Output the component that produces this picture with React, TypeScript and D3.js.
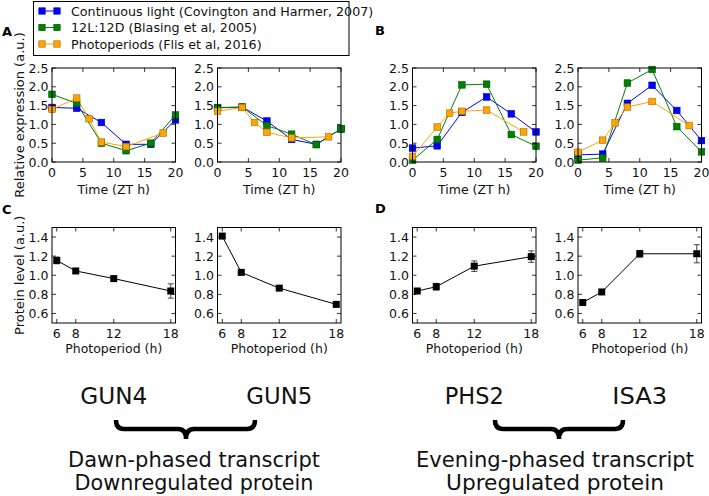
import React from 'react';
import * as d3 from 'd3';

// ---- Data ----
const genes = ['GUN4', 'GUN5', 'PHS2', 'ISA3'];
const seriesNames = [
  'Continuous light (Covington and Harmer, 2007)',
  '12L:12D (Blasing et al, 2005)',
  'Photoperiods (Flis et al, 2016)',
];
const seriesColors = ['#0000ff', '#008000', '#ffa500'];

const timesContinuous = [0, 4, 8, 12, 16, 20];
const times12L12D = [0, 4, 8, 12, 16, 20];
const timesPhotoperiod = [0, 4, 6, 8, 12, 18];

const gun4Continuous = [1.45, 1.43, 1.05, 0.47, 0.47, 1.12];
const gun4Blasing = [1.80, 1.56, 0.50, 0.30, 0.50, 1.25];
const gun4Flis = [1.40, 1.70, 1.15, 0.53, 0.41, 0.77];

const gun5Continuous = [1.44, 1.46, 1.09, 0.60, 0.47, 0.88];
const gun5Blasing = [1.45, 1.46, 0.97, 0.74, 0.46, 0.88];
const gun5Flis = [1.35, 1.45, 1.05, 0.79, 0.64, 0.67];

const phs2Continuous = [0.37, 0.43, 1.32, 1.73, 1.28, 0.80];
const phs2Blasing = [0.05, 0.60, 2.05, 2.07, 0.73, 0.42];
const phs2Flis = [0.15, 0.93, 1.30, 1.35, 1.38, 0.80];

const isa3Continuous = [0.19, 0.21, 1.56, 2.04, 1.37, 0.57];
const isa3Blasing = [0.05, 0.11, 2.10, 2.46, 0.94, 0.27];
const isa3Flis = [0.26, 0.58, 1.04, 1.46, 1.61, 0.97];

const photoperiods = [6, 8, 12, 18];
const gun4Protein = [1.155, 1.045, 0.965, 0.835];
const gun4ProteinErr = [0.035, 0.015, 0.02, 0.075];
const gun5Protein = [1.41, 1.03, 0.865, 0.695];
const gun5ProteinErr = [0.015, 0.015, 0.025, 0.02];
const phs2Protein = [0.835, 0.88, 1.095, 1.195];
const phs2ProteinErr = [0.02, 0.035, 0.055, 0.06];
const isa3Protein = [0.715, 0.825, 1.225, 1.225];
const isa3ProteinErr = [0.025, 0.01, 0.035, 0.095];

const timeTicks = [0, 5, 10, 15, 20];
const exprTicks = [0, 0.5, 1.0, 1.5, 2.0, 2.5];
const photoTicks = [6, 8, 12, 18];
const proteinTicks = [0.6, 0.8, 1.0, 1.2, 1.4];

const panelLetters = ['A', 'B', 'C', 'D'];
const groupTitles = [
  ['Dawn-phased transcript', 'Downregulated protein'],
  ['Evening-phased transcript', 'Upregulated protein'],
];

// ---- Tables built from the arrays ----
const seriesTimes = [timesContinuous, times12L12D, timesPhotoperiod];
const expression = [
  [gun4Continuous, gun4Blasing, gun4Flis],
  [gun5Continuous, gun5Blasing, gun5Flis],
  [phs2Continuous, phs2Blasing, phs2Flis],
  [isa3Continuous, isa3Blasing, isa3Flis],
];
const protein = [
  [gun4Protein, gun4ProteinErr],
  [gun5Protein, gun5ProteinErr],
  [phs2Protein, phs2ProteinErr],
  [isa3Protein, isa3ProteinErr],
];

// ---- Layout ----
const W = 709;
const H = 496;
const FONT = 'DejaVu Sans, Verdana, sans-serif';
const FS = 12.5;
const panelLefts = [52, 217.5, 412.5, 578];
const panelW = 123.5;
const topY0 = 68;
const topY1 = 162;
const botY0 = 227.5;
const botY1 = 323;
const TICK = 4;
const geneWidths = [67, 66, 59, 55];
const titleCenters = [194, 555];
const titleWidths = [[252, 239], [278, 218]];

function Frame({ sx, sy, xTicks, yTicks, yFmt }: any) {
  const [x0, x1] = sx.range();
  const [y1, y0] = sy.range();
  return (
    <g>
      {xTicks.map((t: number) => (
        <g key={'x' + t}>
          <line x1={sx(t)} x2={sx(t)} y1={y1} y2={y1 - TICK} stroke="#000" strokeWidth={0.8} />
          <line x1={sx(t)} x2={sx(t)} y1={y0} y2={y0 + TICK} stroke="#000" strokeWidth={0.8} />
          <text x={sx(t)} y={y1 + 15} fontSize={FS} textAnchor="middle" fontFamily={FONT} fill="#111">{t}</text>
        </g>
      ))}
      {yTicks.map((t: number) => (
        <g key={'y' + t}>
          <line x1={x0} x2={x0 + TICK} y1={sy(t)} y2={sy(t)} stroke="#000" strokeWidth={0.8} />
          <line x1={x1} x2={x1 - TICK} y1={sy(t)} y2={sy(t)} stroke="#000" strokeWidth={0.8} />
          <text x={x0 - 3.5} y={sy(t)} dy="0.36em" fontSize={FS} textAnchor="end" fontFamily={FONT} fill="#111">{yFmt(t)}</text>
        </g>
      ))}
      <rect x={x0} y={y0} width={x1 - x0} height={y1 - y0} fill="none" stroke="#000" strokeWidth={1} />
    </g>
  );
}

function Brace({ x0, x1, xm, y0 }: { x0: number; x1: number; xm: number; y0: number }) {
  const yb = y0 + 9;
  const yt = y0 + 19;
  const r = 8;
  const d =
    `M${x0},${y0} Q${x0},${yb} ${x0 + r},${yb} L${xm - r},${yb} Q${xm},${yb} ${xm},${yt}` +
    ` M${x1},${y0} Q${x1},${yb} ${x1 - r},${yb} L${xm + r},${yb} Q${xm},${yb} ${xm},${yt}`;
  return <path d={d} fill="none" stroke="#000" strokeWidth={4.5} strokeLinecap="butt" />;
}

export default function App() {
  const fmt1 = d3.format('.1f');
  const line = d3.line<[number, number]>();

  return (
    <svg width={W} height={H} style={{ position: 'absolute', left: 0, top: 0, background: '#fff' }}>
      <rect width={W} height={H} fill="#fff" />

      {/* Legend */}
      <g>
        <rect x={33.5} y={1.5} width={315.5} height={54} fill="#fff" stroke="#000" strokeWidth={1} />
        {seriesNames.map((name, i) => {
          const yy = 11 + i * 16.5;
          const c = seriesColors[i];
          const edge = d3.color(c)!.darker(1.2).formatHex();
          return (
            <g key={name}>
              <line x1={39} x2={58} y1={yy} y2={yy} stroke={c} strokeWidth={1} />
              {[42, 57].map((mx) => (
                <rect key={mx} x={mx - 3.2} y={yy - 3.2} width={6.4} height={6.4} fill={c} stroke={edge} strokeWidth={0.6} />
              ))}
              <text x={71} y={yy} dy="0.36em" fontSize={12.7} fontFamily={FONT} fill="#111">{name}</text>
            </g>
          );
        })}
      </g>

      {/* Panel letters */}
      <text x={2} y={36} fontSize={13} fontWeight="bold" fontFamily={FONT}>{panelLetters[0]}</text>
      <text x={375} y={35} fontSize={13} fontWeight="bold" fontFamily={FONT}>{panelLetters[1]}</text>
      <text x={2} y={214} fontSize={13} fontWeight="bold" fontFamily={FONT}>{panelLetters[2]}</text>
      <text x={375} y={213} fontSize={13} fontWeight="bold" fontFamily={FONT}>{panelLetters[3]}</text>

      {/* Y axis titles */}
      <text transform={`translate(24,${(topY0 + topY1) / 2}) rotate(-90)`} fontSize={13} textAnchor="middle" fontFamily={FONT} fill="#111">
        Relative expression (a.u.)
      </text>
      <text transform={`translate(24,${(botY0 + botY1) / 2}) rotate(-90)`} fontSize={13} textAnchor="middle" fontFamily={FONT} fill="#111">
        Protein level (a.u.)
      </text>

      {genes.map((g, gi) => {
        const left = panelLefts[gi];
        const sx = d3.scaleLinear().domain([0, 20]).range([left, left + panelW]);
        const sy = d3.scaleLinear().domain([0, 2.5]).range([topY1, topY0]);
        const px = d3.scaleLinear().domain([5.5, 18.5]).range([left, left + panelW]);
        const py = d3.scaleLinear().domain([0.5, 1.5]).range([botY1, botY0]);
        const [pv, pe] = protein[gi];
        const cx = left + panelW / 2;
        return (
          <g key={g}>
            {/* expression panel */}
            <g>
              <defs>
                <clipPath id={'clip' + gi}>
                  <rect x={left - 4} y={topY0 - 4} width={panelW + 8} height={topY1 - topY0 + 8} />
                </clipPath>
              </defs>
              <g clipPath={`url(#clip${gi})`}>
                {expression[gi].map((vals, si) => {
                  const pts = seriesTimes[si].map((t, k) => [sx(t), sy(vals[k])] as [number, number]);
                  return (
                    <path key={'l' + si} d={line(pts) || ''} fill="none" stroke={seriesColors[si]} strokeWidth={1} />
                  );
                })}
                {expression[gi].map((vals, si) => {
                  const c = seriesColors[si];
                  const edge = d3.color(c)!.darker(1.2).formatHex();
                  return seriesTimes[si].map((t, k) => (
                    <rect key={'m' + si + '_' + k} x={sx(t) - 3.3} y={sy(vals[k]) - 3.3} width={6.6} height={6.6} fill={c} stroke={edge} strokeWidth={0.6} />
                  ));
                })}
              </g>
              <Frame sx={sx} sy={sy} xTicks={timeTicks} yTicks={exprTicks} yFmt={fmt1} />
              <text x={cx} y={194} fontSize={FS} textAnchor="middle" fontFamily={FONT} fill="#111">Time (ZT h)</text>
            </g>

            {/* protein panel */}
            <g>
              <path d={line(photoperiods.map((p, k) => [px(p), py(pv[k])] as [number, number])) || ''} fill="none" stroke="#000" strokeWidth={1} />
              {photoperiods.map((p, k) => (
                <g key={'e' + k} stroke="#444" strokeWidth={1}>
                  <line x1={px(p)} x2={px(p)} y1={py(pv[k] - pe[k])} y2={py(pv[k] + pe[k])} />
                  <line x1={px(p) - 3} x2={px(p) + 3} y1={py(pv[k] - pe[k])} y2={py(pv[k] - pe[k])} />
                  <line x1={px(p) - 3} x2={px(p) + 3} y1={py(pv[k] + pe[k])} y2={py(pv[k] + pe[k])} />
                </g>
              ))}
              {photoperiods.map((p, k) => (
                <rect key={'s' + k} x={px(p) - 3.5} y={py(pv[k]) - 3.5} width={7} height={7} fill="#000" />
              ))}
              <Frame sx={px} sy={py} xTicks={photoTicks} yTicks={proteinTicks} yFmt={fmt1} />
              <text x={cx} y={353} fontSize={FS} textAnchor="middle" fontFamily={FONT} fill="#111">Photoperiod (h)</text>
            </g>

            {/* gene name */}
            <text x={cx} y={404} fontSize={23} textAnchor="middle" fontFamily={FONT} fill="#111"
              textLength={geneWidths[gi]} lengthAdjust="spacingAndGlyphs">{g}</text>
          </g>
        );
      })}

      {/* Braces and group titles */}
      <Brace x0={116} x1={255} xm={186} y0={420} />
      <Brace x0={495} x1={623} xm={559} y0={420} />
      {groupTitles.map((lines, i) => (
        <g key={i}>
          <text x={titleCenters[i]} y={467} fontSize={22} textAnchor="middle" fontFamily={FONT} fill="#111"
            textLength={titleWidths[i][0]} lengthAdjust="spacingAndGlyphs">{lines[0]}</text>
          <text x={titleCenters[i]} y={490} fontSize={22} textAnchor="middle" fontFamily={FONT} fill="#111"
            textLength={titleWidths[i][1]} lengthAdjust="spacingAndGlyphs">{lines[1]}</text>
        </g>
      ))}
    </svg>
  );
}
